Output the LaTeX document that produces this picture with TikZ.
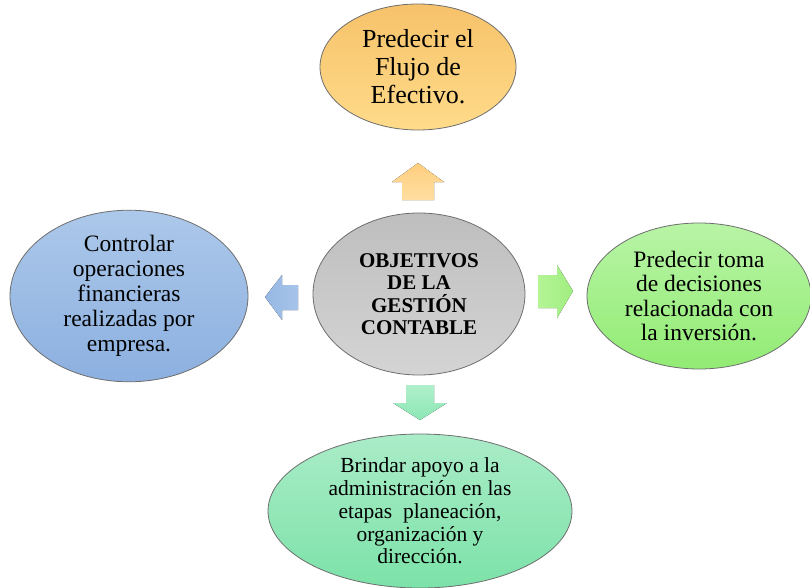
\documentclass[tikz,border=0pt]{standalone}
\usepackage{fontspec}
\setmainfont{Liberation Serif}
\newfontfamily\tnr{Liberation Serif}
\usetikzlibrary{shapes.geometric}
\definecolor{bordc}{HTML}{6E6E6E}
\tikzset{
  oval/.style={ellipse, draw=bordc, line width=0.8pt, inner sep=0pt, align=center, text=black},
}
\begin{document}
\begin{tikzpicture}[x=1pt,y=-1pt]
\useasboundingbox (0,0) rectangle (810,588);
% ellipses
\node[oval, minimum width=196pt, minimum height=126pt, top color={rgb,255:red,246;green,194;blue,106}, bottom color={rgb,255:red,255;green,219;blue,138},
  font=\tnr\fontsize{26}{28}\selectfont] (top) at (418,67) {Predecir el\\Flujo de\\Efectivo.};
\node[oval, minimum width=212pt, minimum height=162pt, top color={rgb,255:red,190;green,190;blue,190}, bottom color={rgb,255:red,212;green,212;blue,212},
  font=\tnr\fontsize{21}{22.5}\selectfont\bfseries] (ctr) at (419,294) {OBJETIVOS\\DE LA\\GESTIÓN\\CONTABLE};
\node[oval, minimum width=238pt, minimum height=148pt, top color={rgb,255:red,172;green,200;blue,234}, bottom color={rgb,255:red,140;green,176;blue,224},
  font=\tnr\fontsize{23.5}{25}\selectfont] (lft) at (129,296) {Controlar\\operaciones\\financieras\\realizadas por\\empresa.};
\node[oval, minimum width=224pt, minimum height=146pt, top color={rgb,255:red,184;green,244;blue,166}, bottom color={rgb,255:red,146;green,236;blue,116},
  font=\tnr\fontsize{23.5}{24.5}\selectfont] (rgt) at (699,296) {Predecir toma\\de decisiones\\relacionada con\\la inversión.};
\node[oval, minimum width=304pt, minimum height=154pt, top color={rgb,255:red,170;green,236;blue,200}, bottom color={rgb,255:red,124;green,226;blue,168},
  font=\tnr\fontsize{21.5}{22.8}\selectfont] (bot) at (420,511) {Brindar apoyo a la\\administración en las\\etapas \ planeación,\\organización y\\dirección.};
% block arrows
\coordinate (au) at (418,182);
\fill[top color={rgb,255:red,255;green,206;blue,128}, bottom color={rgb,255:red,255;green,222;blue,160}]
  ([xshift=-16pt,yshift=-18pt]au) -- ([xshift=-16pt]au) -- ([xshift=-26pt]au) -- ([yshift=19pt]au)
  -- ([xshift=26pt]au) -- ([xshift=16pt]au) -- ([xshift=16pt,yshift=-18pt]au) -- cycle;
\coordinate (ad) at (420,403);
\fill[top color={rgb,255:red,176;green,240;blue,204}, bottom color={rgb,255:red,140;green,230;blue,180}]
  ([xshift=-14pt,yshift=18pt]ad) -- ([xshift=-14pt]ad) -- ([xshift=-27pt]ad) -- ([yshift=-17pt]ad)
  -- ([xshift=27pt]ad) -- ([xshift=14pt]ad) -- ([xshift=14pt,yshift=18pt]ad) -- cycle;
\coordinate (al) at (282,297);
\fill[left color={rgb,255:red,150;green,184;blue,228}, right color={rgb,255:red,166;green,196;blue,234}]
  ([xshift=16pt,yshift=12pt]al) -- ([yshift=12pt]al) -- ([yshift=22pt]al) -- ([xshift=-17pt]al)
  -- ([yshift=-23pt]al) -- ([yshift=-13pt]al) -- ([xshift=16pt,yshift=-13pt]al) -- cycle;
\coordinate (ar) at (557,291);
\fill[left color={rgb,255:red,180;green,244;blue,150}, right color={rgb,255:red,160;green,238;blue,128}]
  ([xshift=-19pt,yshift=16pt]ar) -- ([yshift=16pt]ar) -- ([yshift=26pt]ar) -- ([xshift=16pt]ar)
  -- ([yshift=-27pt]ar) -- ([yshift=-17pt]ar) -- ([xshift=-19pt,yshift=-17pt]ar) -- cycle;
\end{tikzpicture}
\end{document}
